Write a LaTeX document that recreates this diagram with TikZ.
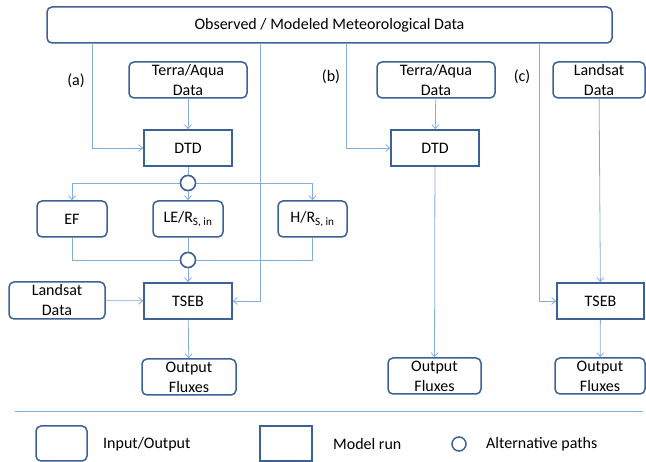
\documentclass[tikz,border=0pt]{standalone}
\usepackage{fontspec}
\setmainfont{Carlito}
\usetikzlibrary{arrows.meta}
\definecolor{bord}{RGB}{60,97,148}
\definecolor{lineb}{RGB}{135,172,220}
\tikzset{
  base/.style={fill=white,align=center,inner sep=0pt,font=\fontsize{16}{20}\selectfont},
  io/.style={base,draw=bord,line width=1.5pt,rounded corners=5pt},
  run/.style={base,draw=bord,line width=1.6pt},
  alt/.style={circle,draw=bord,line width=1.5pt,fill=white,minimum size=15pt,inner sep=0pt},
  conn/.style={draw=lineb,line width=0.8pt,-{Straight Barb[length=4pt,width=7pt]}},
  plain/.style={draw=lineb,line width=0.8pt},
  lbl/.style={font=\fontsize{16}{20}\selectfont,inner sep=0pt},
}
\begin{document}
\begin{tikzpicture}[x=1pt,y=-1pt]
\useasboundingbox (0,0) rectangle (646,462);
% nodes
\node[io,minimum width=565pt,minimum height=36pt] (top) at (329.5,25) {Observed / Modeled Meteorological Data};
\node[io,minimum width=118pt,minimum height=36pt] (ta1) at (188,80) {Terra/Aqua\\Data};
\node[run,minimum width=88pt,minimum height=36pt] (dtd1) at (188,148) {DTD};
\node[alt] (alt1) at (188,183) {};
\node[io,minimum width=70pt,minimum height=36pt] (ef) at (72,219) {EF};
\node[io,minimum width=70pt,minimum height=36pt] (le) at (188,219) {LE/R\textsubscript{S, in}};
\node[io,minimum width=69pt,minimum height=36pt] (h) at (312.5,219) {H/R\textsubscript{S, in}};
\node[alt] (alt2) at (188,260) {};
\node[io,minimum width=96pt,minimum height=37pt] (ls1) at (57,300.5) {Landsat\\Data};
\node[run,minimum width=88pt,minimum height=36pt] (tseb1) at (188,301) {TSEB};
\node[io,minimum width=94pt,minimum height=36pt] (out1) at (189,377) {Output\\Fluxes};
\node[io,minimum width=118pt,minimum height=36pt] (ta2) at (436,80) {Terra/Aqua\\Data};
\node[run,minimum width=88pt,minimum height=36pt] (dtd2) at (435,148) {DTD};
\node[io,minimum width=93pt,minimum height=36pt] (out2) at (434.5,376) {Output\\Fluxes};
\node[io,minimum width=92pt,minimum height=36pt] (ls3) at (599,80) {Landsat\\Data};
\node[run,minimum width=87pt,minimum height=36pt] (tseb3) at (600.5,301) {TSEB};
\node[io,minimum width=90pt,minimum height=36pt] (out3) at (600,376) {Output\\Fluxes};
% labels
\node[lbl] (la) at (76,81) {(a)};
\node[lbl] (lb) at (331,77) {(b)};
\node[lbl] (lc) at (522,77) {(c)};
% branch coordinates on the top box
\coordinate (pa) at (92,43);
\coordinate (pm) at (260,43);
\coordinate (pb) at (346,43);
\coordinate (pc) at (539,43);
% connectors
\draw[conn] (pa) |- (dtd1.west);
\draw[conn] (pm) |- (tseb1.east);
\draw[conn] (pb) |- (dtd2.west);
\draw[conn] (pc) |- (tseb3.west);
\draw[conn] (ta1) -- (dtd1);
\draw[plain] (dtd1) -- (alt1);
\draw[conn] (alt1) -- (le);
\draw[conn] (alt1.west) -| (ef.north);
\draw[conn] (alt1.east) -| (h.north);
\draw[plain] (ef.south) |- (alt2.west);
\draw[plain] (h.south) |- (alt2.east);
\draw[plain] (le) -- (alt2);
\draw[conn] (alt2) -- (tseb1);
\draw[conn] (ls1) -- (tseb1);
\draw[conn] (tseb1) -- (out1);
\draw[conn] (ta2) -- (dtd2);
\draw[conn] (dtd2) -- (out2);
\draw[conn] (ls3) -- (tseb3);
\draw[conn] (tseb3) -- (out3);
% redraw circles on top
\node[alt] at (alt1) {};
\node[alt] at (alt2) {};
% separator
\coordinate (s1) at (15,411);
\coordinate (s2) at (643,411);
\draw[plain] (s1) -- (s2);
% legend
\node[io,minimum width=51pt,minimum height=35pt] (lio) at (61.5,443.5) {};
\node[lbl,anchor=west] (tio) at (103,444) {Input/Output};
\node[run,minimum width=52pt,minimum height=35pt] (lrun) at (286,443.5) {};
\node[lbl,anchor=west] (trun) at (333,444) {Model run};
\node[alt,minimum size=14pt] (lalt) at (459,444) {};
\node[lbl,anchor=west] (talt) at (486,444) {Alternative paths};
\end{tikzpicture}
\end{document}
